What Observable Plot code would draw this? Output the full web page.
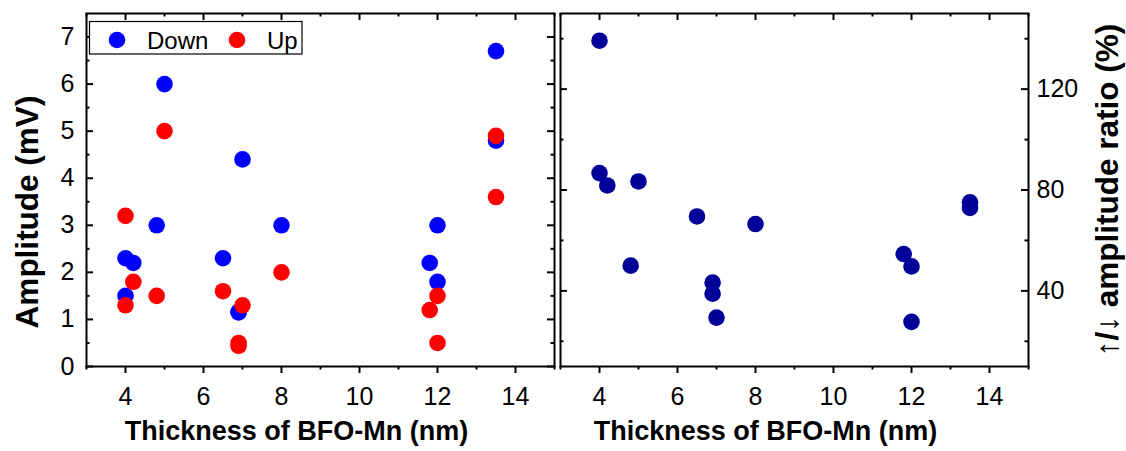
<!DOCTYPE html>
<html><head><meta charset="utf-8">
<script src="https://cdn.jsdelivr.net/npm/d3@7"></script>
<script src="https://cdn.jsdelivr.net/npm/@observablehq/plot@0.6"></script>
<style>
body{margin:0;background:#fff;}
#wrap{position:relative;width:1126px;height:451px;font-family:"Liberation Sans",Arial,sans-serif;overflow:hidden;}
#wrap > svg, #wrap > figure{position:absolute;top:0;margin:0;}
</style></head><body><div id="wrap"></div>
<script>
// ---- data ----
const thickness = [4, 4, 4.2, 4.8, 5, 6.5, 6.9, 6.9, 7, 8, 11.8, 12, 12, 13.5, 13.5];
const downAmp   = [2.3, 1.5, 2.2, 3.0, 6.0, 2.3, 1.15, 1.16, 4.4, 3.0, 2.2, 3.0, 1.8, 6.7, 4.8];
const upAmp     = [3.2, 1.3, 1.8, 1.5, 5.0, 1.6, 0.5, 0.44, 1.3, 2.0, 1.2, 1.5, 0.5, 4.9, 3.6];
const ratio     = [139.2, 86.7, 81.8, 50.0, 83.4, 69.5, 43.3, 38.9, 29.4, 66.5, 54.6, 49.7, 27.7, 72.9, 75.1];
const seriesNames = ["Down", "Up"];
const seriesColors = ["#0000ff", "#ff0000"];
const ratioColor = "#000099";
const xTicks = [4, 6, 8, 10, 12, 14];
const xMinor = [3, 5, 7, 9, 11, 13, 15];
const ampTicks = [0, 1, 2, 3, 4, 5, 6, 7];
const ampMinor = [0.5, 1.5, 2.5, 3.5, 4.5, 5.5, 6.5];
const ratioTicks = [40, 80, 120];
const ratioMinor = [20, 60, 100, 140];
const xLabel = "Thickness of BFO-Mn (nm)";
const ampLabel = "Amplitude (mV)";
const ratioLabel = "↑/↓ amplitude ratio (%)";

const rows = thickness.map((t, i) => ({t, down: downAmp[i], up: upAmp[i], ratio: ratio[i]}));

const H = 451, MT = 13, MB = 85;
const FH = H - MT - MB;
const font = "Liberation Sans, Arial, sans-serif";
const MAJ = 7, MIN = 3.5, SW = 2;

function ticksMarks(fw, yT, yM) {
  return [
    // left inward
    Plot.tickY(yT, {y: d => d, insetRight: fw - MAJ, strokeWidth: SW}),
    Plot.tickY(yM, {y: d => d, insetRight: fw - MIN, strokeWidth: SW}),
    // right inward
    Plot.tickY(yT, {y: d => d, insetLeft: fw - MAJ, strokeWidth: SW}),
    Plot.tickY(yM, {y: d => d, insetLeft: fw - MIN, strokeWidth: SW}),
    // top inward
    Plot.tickX(xTicks, {x: d => d, insetBottom: FH - MAJ, strokeWidth: SW}),
    Plot.tickX(xMinor, {x: d => d, insetBottom: FH - MIN, strokeWidth: SW}),
    // bottom outward
    Plot.tickX(xTicks, {x: d => d, insetTop: FH, insetBottom: -MAJ, strokeWidth: SW}),
    Plot.tickX(xMinor, {x: d => d, insetTop: FH, insetBottom: -MIN, strokeWidth: SW})
  ];
}

// ---- left panel ----
const LW = 556, LML = 86, LMR = 2;
const LFW = LW - LML - LMR;
const left = Plot.plot({
  width: LW, height: H,
  marginLeft: LML, marginRight: LMR, marginTop: MT, marginBottom: MB,
  style: {fontFamily: font, color: "black", background: "transparent", overflow: "visible"},
  x: {domain: [3, 15]},
  y: {domain: [0, 7.5]},
  marks: [
    Plot.axisX({ticks: xTicks, tickSize: 0, tickPadding: 21, fontSize: 25, label: null}),
    Plot.axisY({ticks: ampTicks, tickSize: 0, tickPadding: 12, fontSize: 25, label: null}),
    ...ticksMarks(LFW, ampTicks, ampMinor),
    Plot.dot(rows, {x: "t", y: "down", r: 8.3, fill: seriesColors[0]}),
    Plot.dot(rows, {x: "t", y: "up", r: 8.3, fill: seriesColors[1]}),
    Plot.frame({stroke: "black", strokeWidth: SW}),
    Plot.text([xLabel], {text: d => d, frameAnchor: "bottom", textAnchor: "middle", dx: -24, dy: 65, fontSize: 27, fontWeight: "bold", lineAnchor: "middle"}),
    Plot.text([ampLabel], {text: d => d, frameAnchor: "left", textAnchor: "middle", dx: -59, dy: 22, rotate: -90, fontSize: 31.5, fontWeight: "bold", lineAnchor: "middle"})
  ]
});
left.style.left = "0px";

// ---- right panel ----
const RX = 556, RW = 1126 - RX, RML = 4, RMR = 98;
const RFW = RW - RML - RMR;
const right = Plot.plot({
  width: RW, height: H,
  marginLeft: RML, marginRight: RMR, marginTop: MT, marginBottom: MB,
  style: {fontFamily: font, color: "black", background: "transparent", overflow: "visible"},
  x: {domain: [3, 15]},
  y: {domain: [10, 150]},
  marks: [
    Plot.axisX({ticks: xTicks, tickSize: 0, tickPadding: 21, fontSize: 25, label: null}),
    Plot.axisY({anchor: "right", ticks: ratioTicks, tickSize: 0, tickPadding: 8, fontSize: 25, label: null}),
    ...ticksMarks(RFW, ratioTicks, ratioMinor),
    Plot.dot(rows, {x: "t", y: "ratio", r: 8.3, fill: ratioColor}),
    Plot.frame({stroke: "black", strokeWidth: SW}),
    Plot.text([xLabel], {text: d => d, frameAnchor: "bottom", textAnchor: "middle", dx: -29, dy: 65, fontSize: 27, fontWeight: "bold", lineAnchor: "middle"}),
    Plot.text([ratioLabel], {text: d => d, frameAnchor: "right", textAnchor: "middle", dx: 79, dy: 0, rotate: -90, fontSize: 31.5, fontWeight: "bold", lineAnchor: "middle"})
  ]
});
right.style.left = RX + "px";

const wrap = document.getElementById("wrap");
wrap.appendChild(left);
wrap.appendChild(right);

// ---- legend overlay (inside left panel) ----
const ns = "http://www.w3.org/2000/svg";
const leg = document.createElementNS(ns, "svg");
leg.setAttribute("width", 1126); leg.setAttribute("height", 451);
leg.style.position = "absolute"; leg.style.left = "0px"; leg.style.top = "0px";
leg.style.fontFamily = font;
const box = document.createElementNS(ns, "rect");
box.setAttribute("x", 89.5); box.setAttribute("y", 21.5);
box.setAttribute("width", 212.5); box.setAttribute("height", 32.5);
box.setAttribute("fill", "white"); box.setAttribute("stroke", "black"); box.setAttribute("stroke-width", 1.2);
leg.appendChild(box);
const legX = [117, 237], legT = [147, 267];
seriesNames.forEach((name, i) => {
  const c = document.createElementNS(ns, "circle");
  c.setAttribute("cx", legX[i]); c.setAttribute("cy", 40); c.setAttribute("r", 8.3);
  c.setAttribute("fill", seriesColors[i]);
  leg.appendChild(c);
  const t = document.createElementNS(ns, "text");
  t.setAttribute("x", legT[i]); t.setAttribute("y", 48.5);
  t.setAttribute("font-size", 24);
  t.textContent = name;
  leg.appendChild(t);
});
wrap.appendChild(leg);
</script>
</body></html>
